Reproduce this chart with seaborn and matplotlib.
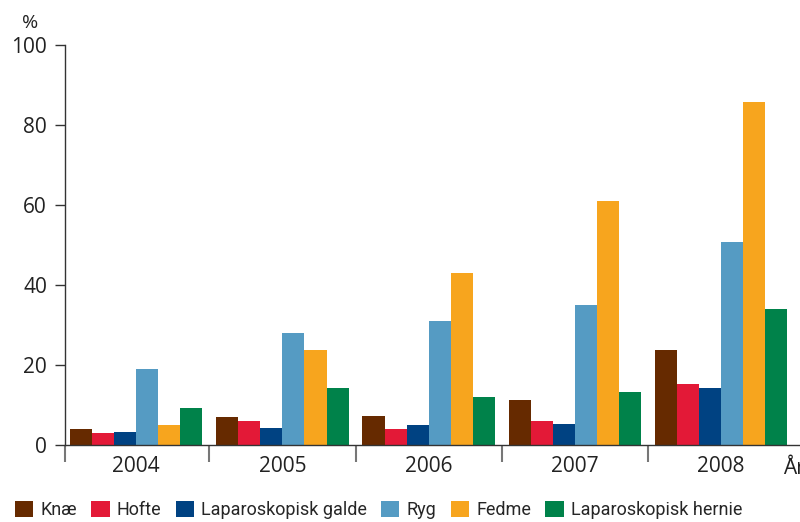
import matplotlib
matplotlib.use("Agg")
import matplotlib.pyplot as plt
import pandas as pd
import seaborn as sns
from matplotlib.ticker import FixedLocator
from matplotlib.patches import Patch

sns.set_style("white")
plt.rcParams['font.family'] = ['Open Sans', 'DejaVu Sans']

years = ["2004", "2005", "2006", "2007", "2008"]
kategorier = ["Knæ", "Hofte", "Laparoskopisk galde", "Ryg", "Fedme", "Laparoskopisk hernie"]
knae = [4.0, 7.0, 7.25, 11.25, 23.75]
hofte = [3.0, 6.0, 4.0, 6.0, 15.25]
galde = [3.25, 4.25, 5.0, 5.25, 14.25]
ryg = [19.0, 28.0, 31.0, 35.0, 50.75]
fedme = [5.0, 23.75, 43.0, 61.0, 85.75]
hernie = [9.25, 14.25, 12.0, 13.25, 34.0]
farver = ["#662a00", "#e31937", "#004282", "#559bc3", "#f7a51e", "#00824a"]

serier = [knae, hofte, galde, ryg, fedme, hernie]
rows = []
for kat, vals in zip(kategorier, serier):
    for yr, v in zip(years, vals):
        rows.append({"year": yr, "kategori": kat, "pct": v})
df = pd.DataFrame(rows)

fig = plt.figure(figsize=(8, 5.22), dpi=100)
ax = fig.add_axes([0.08125, 0.1475, 0.93, 0.7663])

sns.barplot(ax=ax, data=df, x="year", y="pct", hue="kategori", hue_order=kategorier,
            palette=farver, width=0.905, gap=0, saturation=1, legend=False,
            linewidth=0, edgecolor="none")

ax.set_ylim(0, 100)
ax.set_xlim(-0.486, 4.6)
ax.set_yticks([0, 20, 40, 60, 80, 100])
ax.set_xlabel("")
ax.set_ylabel("")
for s in ["top", "right"]:
    ax.spines[s].set_visible(False)
ax.spines["left"].set_color("#333333")
ax.spines["bottom"].set_color("#333333")
ax.spines["left"].set_linewidth(1.0)
ax.spines["bottom"].set_linewidth(1.0)

ax.tick_params(axis="y", direction="out", length=7, width=1, color="#333333",
               labelsize=15, labelcolor="#222222", pad=6, left=True)
ax.tick_params(axis="x", which="major", length=0, labelsize=15, labelcolor="#222222", pad=8)
ax.xaxis.set_minor_locator(FixedLocator([-0.486, 0.5, 1.5, 2.5, 3.5]))
ax.tick_params(axis="x", which="minor", direction="out", length=12, width=1.5,
               color="#777777", bottom=True)

fig.text(0.027, 0.955, "%", fontsize=14, color="#222222", ha="left", va="center")
fig.text(0.979, 0.102, "År", fontsize=15, color="#222222", ha="left", va="center")

handles = [Patch(facecolor=c, edgecolor="none") for c in farver]
fig.legend(handles, kategorier, loc="lower left", bbox_to_anchor=(0.01, -0.008), ncol=6,
           frameon=False, handlelength=1.0, handleheight=1.0,
           handletextpad=0.4, columnspacing=0.8, borderaxespad=0,
           prop={"family": ["Roboto", "DejaVu Sans"], "size": 13})

fig.savefig("out.png", dpi=100)
